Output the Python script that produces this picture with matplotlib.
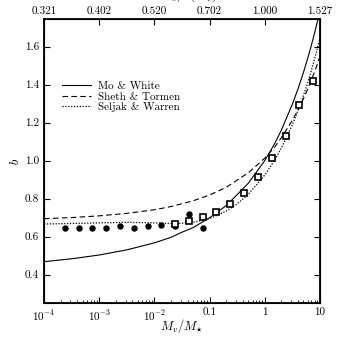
import matplotlib
matplotlib.use("Agg")
import matplotlib.pyplot as plt
from matplotlib.ticker import FixedLocator, FixedFormatter, LogLocator, NullFormatter, MultipleLocator, FormatStrFormatter

plt.rcParams['font.family'] = 'serif'
plt.rcParams['font.serif'] = ['cmr10', 'DejaVu Serif']
plt.rcParams['mathtext.fontset'] = 'cm'
plt.rcParams['axes.formatter.use_mathtext'] = True
plt.rcParams['font.size'] = 8

# theory curves
curve_m = [1e-4, 3.16e-4, 1e-3, 3.16e-3, 1e-2, 0.02, 3.16e-2, 0.05, 0.1, 0.2, 0.316, 0.5,
           1.0, 1.5, 2.0, 3.16, 4.0, 5.0, 6.0, 7.0, 8.5, 10.0]
mo_white = [0.468, 0.483, 0.503, 0.530, 0.567, 0.596, 0.623, 0.647, 0.699, 0.763, 0.821, 0.880,
            1.000, 1.088, 1.161, 1.297, 1.378, 1.463, 1.539, 1.608, 1.703, 1.790]
sheth_tormen = [0.694, 0.700, 0.709, 0.722, 0.741, 0.758, 0.773, 0.788, 0.819, 0.859, 0.897, 0.935,
                1.013, 1.070, 1.121, 1.212, 1.267, 1.325, 1.377, 1.425, 1.489, 1.549]
seljak_warren = [0.666, 0.669, 0.672, 0.675, 0.672, 0.669, 0.670, 0.675, 0.694, 0.734, 0.772, 0.822,
                 0.924, 1.001, 1.066, 1.189, 1.263, 1.341, 1.411, 1.476, 1.564, 1.645]

# open squares
sq_m = [0.0237, 0.0422, 0.075, 0.133, 0.237, 0.422, 0.75, 1.33, 2.37, 4.22, 7.5]
sq_b = [0.667, 0.681, 0.702, 0.728, 0.772, 0.830, 0.914, 1.014, 1.130, 1.292, 1.419]

# filled dots
dot_m = [2.37e-4, 4.22e-4, 7.5e-4, 1.33e-3, 2.37e-3, 4.22e-3, 7.5e-3, 0.0133, 0.0237, 0.0422, 0.075]
dot_b = [0.646, 0.644, 0.644, 0.644, 0.655, 0.644, 0.655, 0.663, 0.655, 0.720, 0.647]

# axis ticks
bottom_ticks = [1e-4, 1e-3, 1e-2, 0.1, 1, 10]
bottom_labels = [r'$10^{-4}$', r'$10^{-3}$', r'$10^{-2}$', '0.1', '1', '10']
nu_labels = ['0.321', '0.402', '0.520', '0.702', '1.000', '1.527']

fig = plt.figure(figsize=(3.39, 3.39), dpi=100)
ax = fig.add_axes([0.130, 0.106, 0.814, 0.838])

ax.plot(curve_m, mo_white, color='black', lw=0.8, ls='-', label='Mo & White')
ax.plot(curve_m, sheth_tormen, color='black', lw=0.8, ls=(0, (5, 3)), label='Sheth & Tormen')
ax.plot(curve_m, seljak_warren, color='black', lw=0.9, ls=(0, (1, 1.3)), label='Seljak & Warren')
ax.plot(dot_m, dot_b, 'o', color='black', ms=3.6, ls='none')
ax.plot(sq_m, sq_b, 's', mfc='white', mec='black', mew=1.2, ms=5.0, ls='none')

ax.set_xscale('log')
ax.set_xlim(1e-4, 10)
ax.set_ylim(0.25, 1.745)

ax.xaxis.set_major_locator(FixedLocator(bottom_ticks))
ax.xaxis.set_major_formatter(FixedFormatter(bottom_labels))
ax.xaxis.set_minor_locator(LogLocator(base=10, subs=range(2, 10)))
ax.xaxis.set_minor_formatter(NullFormatter())
ax.yaxis.set_major_locator(MultipleLocator(0.2))
ax.yaxis.set_major_formatter(FormatStrFormatter('%.1f'))

ax.tick_params(which='both', direction='in', right=True, top=False)
ax.tick_params(which='major', length=4, width=0.8)
ax.tick_params(which='minor', length=2, width=0.6)
for s in ax.spines.values():
    s.set_linewidth(1.3)

ax.set_xlabel(r'$M_v/M_{\star}$', fontsize=9)
ax.xaxis.set_label_coords(0.5, -0.08)
ax.xaxis.label.set_va('center')
ax.set_ylabel(r'$b$', fontsize=9, labelpad=2)

top = ax.twiny()
top.set_xscale('log')
top.set_xlim(ax.get_xlim())
top.xaxis.set_major_locator(FixedLocator(bottom_ticks))
top.xaxis.set_major_formatter(FixedFormatter(nu_labels))
top.xaxis.set_minor_locator(FixedLocator([]))
top.tick_params(direction='in', length=4, width=0.8, pad=2)
top.set_xlabel(r'$\nu = \delta_c/\sigma(M_v)$', fontsize=9, labelpad=6)

ax.legend(loc='upper left', bbox_to_anchor=(0.03, 0.815), frameon=False,
          handlelength=2.6, handletextpad=0.6, labelspacing=0.05, fontsize=8)

fig.savefig('out.png', dpi=100)
